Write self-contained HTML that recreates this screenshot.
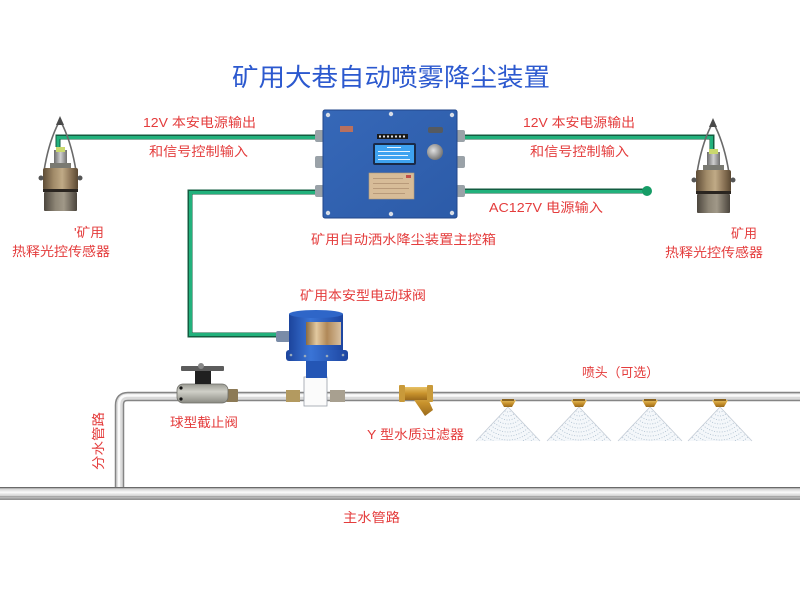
<!DOCTYPE html>
<html><head><meta charset="utf-8"><style>
html,body{margin:0;padding:0;background:#fff;}
svg{display:block;}
text{font-family:"Liberation Sans","Noto Sans CJK SC",sans-serif;}
.r{fill:#e43c3c;font-size:13px;}
</style></head><body>
<svg width="800" height="600" viewBox="0 0 800 600" xmlns="http://www.w3.org/2000/svg">
<defs>
 <linearGradient id="bronze" x1="0" x2="1" y1="0" y2="0">
  <stop offset="0" stop-color="#5e4c36"/><stop offset="0.3" stop-color="#a08a68"/><stop offset="0.55" stop-color="#c0aa86"/><stop offset="0.8" stop-color="#8a7356"/><stop offset="1" stop-color="#5a4832"/>
 </linearGradient>
 <linearGradient id="lower" x1="0" x2="1" y1="0" y2="0">
  <stop offset="0" stop-color="#4c463e"/><stop offset="0.35" stop-color="#8e8676"/><stop offset="0.6" stop-color="#a09888"/><stop offset="1" stop-color="#4a443c"/>
 </linearGradient>
 <linearGradient id="neck" x1="0" x2="1" y1="0" y2="0">
  <stop offset="0" stop-color="#6a6a6a"/><stop offset="0.5" stop-color="#cfcfcf"/><stop offset="1" stop-color="#6e6e6e"/>
 </linearGradient>
 <linearGradient id="pipeH" x1="0" x2="0" y1="0" y2="1">
  <stop offset="0" stop-color="#7a7a7a"/><stop offset="0.18" stop-color="#d8d8d8"/><stop offset="0.4" stop-color="#fbfbfb"/><stop offset="0.7" stop-color="#cfcfcf"/><stop offset="1" stop-color="#8a8a8a"/>
 </linearGradient>
 <linearGradient id="vblue" x1="0" x2="1" y1="0" y2="0">
  <stop offset="0" stop-color="#1c449c"/><stop offset="0.4" stop-color="#3a74d6"/><stop offset="1" stop-color="#1d45a0"/>
 </linearGradient>
 <linearGradient id="gold" x1="0" x2="1" y1="0" y2="0">
  <stop offset="0" stop-color="#8a6a40"/><stop offset="0.3" stop-color="#e2c9a0"/><stop offset="0.6" stop-color="#b08858"/><stop offset="1" stop-color="#d8c0a0"/>
 </linearGradient>
 <linearGradient id="brass" x1="0" x2="0" y1="0" y2="1">
  <stop offset="0" stop-color="#e8c266"/><stop offset="0.5" stop-color="#c8922c"/><stop offset="1" stop-color="#9a6a1c"/>
 </linearGradient>
 <linearGradient id="boxg" x1="0" x2="1" y1="0" y2="1">
  <stop offset="0" stop-color="#3668b8"/><stop offset="1" stop-color="#2c5ba8"/>
 </linearGradient>
 <radialGradient id="knob" cx="0.4" cy="0.4" r="0.6">
  <stop offset="0" stop-color="#e0e0e0"/><stop offset="1" stop-color="#777"/>
 </radialGradient>
 <linearGradient id="bv" x1="0" x2="0" y1="0" y2="1">
  <stop offset="0" stop-color="#9a9a92"/><stop offset="0.4" stop-color="#d0d0c8"/><stop offset="1" stop-color="#8a8a82"/>
 </linearGradient>
 <clipPath id="tri"><path d="M0 0 L-32 34 L32 34 Z"/></clipPath>
 <g id="spray">
  <path d="M0 0 L-32 34 L32 34 Z" fill="#f4f7fa"/>
  <g clip-path="url(#tri)" fill="none" stroke="#a9bccd" stroke-width="0.8" stroke-dasharray="1 1.6">
   <circle r="5"/><circle r="9"/><circle r="13"/><circle r="17"/><circle r="21"/><circle r="25"/><circle r="29"/><circle r="33"/><circle r="37"/><circle r="41"/>
  </g>
  <path d="M-32 34 L0 0 L32 34" fill="none" stroke="#c4ccd6" stroke-width="0.8"/>
  <path d="M-8 -7 L8 -7 L4 0 L-4 0 Z" fill="url(#brass)"/>
  <rect x="-6" y="-8" width="12" height="2" fill="#8a6420"/>
 </g>
 <g id="sensor">
  <path d="M58 124 C52 136 47 152 44 171" fill="none" stroke="#6a6a6a" stroke-width="1.6"/>
  <path d="M62 124 C68 136 73 152 76 171" fill="none" stroke="#6a6a6a" stroke-width="1.6"/>
  <path d="M60 116 L56 125 L64 125 Z" fill="#4a4a4a"/>
  <rect x="54" y="150" width="13" height="19" fill="url(#neck)"/>
  <rect x="56" y="147" width="9" height="5" fill="#c9d86e"/>
  <rect x="50" y="163" width="21" height="6" fill="#7a7a72"/>
  <rect x="43" y="168" width="35" height="22" rx="2" fill="url(#bronze)"/>
  <circle cx="41" cy="178" r="2.5" fill="#555"/>
  <circle cx="80" cy="178" r="2.5" fill="#555"/>
  <rect x="43" y="189" width="35" height="3" fill="#2a2520"/>
  <rect x="44" y="192" width="33" height="19" rx="1" fill="url(#lower)"/>
 </g>
</defs>

<rect width="800" height="600" fill="#fff"/>

<!-- title -->
<text x="232" y="86" font-size="25" fill="#2c59cf" textLength="318" lengthAdjust="spacingAndGlyphs">矿用大巷自动喷雾降尘装置</text>

<!-- green connectors -->
<g fill="none" stroke-linejoin="miter">
 <path d="M58 147 V137 H318" stroke="#135c40" stroke-width="5"/>
 <path d="M58 147 V137.5 H318" stroke="#22b17c" stroke-width="3"/>
 <path d="M318 192 H190 V335 H280" stroke="#135c40" stroke-width="5"/>
 <path d="M318 192.5 H190.5 V334.5 H280" stroke="#22b17c" stroke-width="3"/>
 <path d="M462 137 H712 V149" stroke="#135c40" stroke-width="5"/>
 <path d="M462 137.5 H711.5 V149" stroke="#22b17c" stroke-width="3"/>
 <path d="M462 191 H647" stroke="#135c40" stroke-width="5"/>
 <path d="M462 191.5 H647" stroke="#22b17c" stroke-width="3"/>
</g>
<circle cx="647" cy="191" r="5" fill="#169c66"/>

<!-- sensors -->
<use href="#sensor"/>
<use href="#sensor" transform="translate(653,2)"/>

<!-- control box -->
<g>
 <rect x="315" y="130" width="9" height="12" rx="2" fill="#9aa2a8"/>
 <rect x="315" y="156" width="9" height="12" rx="2" fill="#9aa2a8"/>
 <rect x="315" y="185" width="9" height="12" rx="2" fill="#9aa2a8"/>
 <rect x="456" y="130" width="9" height="12" rx="2" fill="#9aa2a8"/>
 <rect x="456" y="156" width="9" height="12" rx="2" fill="#9aa2a8"/>
 <rect x="456" y="185" width="9" height="12" rx="2" fill="#9aa2a8"/>
 <rect x="323" y="110" width="134" height="108" rx="2" fill="url(#boxg)" stroke="#22468a" stroke-width="1"/>
 <g fill="#d8dde6">
  <circle cx="328" cy="115" r="2.2"/><circle cx="391" cy="114" r="2.2"/><circle cx="452" cy="115" r="2.2"/>
  <circle cx="328" cy="213" r="2.2"/><circle cx="391" cy="214" r="2.2"/><circle cx="452" cy="213" r="2.2"/>
 </g>
 <rect x="340" y="126" width="13" height="6" fill="#b8705e"/>
 <rect x="428" y="127" width="15" height="6" rx="2" fill="#555a60"/>
 <rect x="377" y="134" width="31" height="5" fill="#1a1a1a"/>
 <g fill="#ddd"><rect x="379" y="135.5" width="2" height="2"/><rect x="383" y="135.5" width="2" height="2"/><rect x="387" y="135.5" width="2" height="2"/><rect x="391" y="135.5" width="2" height="2"/><rect x="395" y="135.5" width="2" height="2"/><rect x="399" y="135.5" width="2" height="2"/><rect x="403" y="135.5" width="2" height="2"/></g>
 <rect x="373" y="143" width="43" height="22" rx="2" fill="#1a2a48"/>
 <rect x="375" y="145" width="39" height="18" fill="#3ea2f0"/>
 <g fill="#e8f4ff"><rect x="387" y="147" width="14" height="1"/><rect x="378" y="151" width="32" height="1"/><rect x="378" y="155" width="30" height="1"/><rect x="378" y="159" width="32" height="1"/></g>
 <circle cx="435" cy="152" r="8" fill="url(#knob)"/>
 <rect x="369" y="173" width="45" height="26" fill="#d7bc98" stroke="#b49a78" stroke-width="0.6"/>
 <g fill="#b89a7a"><rect x="373" y="178" width="30" height="1"/><rect x="373" y="183" width="36" height="1"/><rect x="373" y="188" width="36" height="1"/><rect x="373" y="193" width="32" height="1"/></g>
 <rect x="406" y="175" width="5" height="3" fill="#c0504a"/>
</g>

<!-- pipes -->
<g fill="none">
 <path d="M119.5 489 V405 Q119.5 396.5 128 396.5 H800" stroke="#858585" stroke-width="9.5"/>
 <path d="M119.5 489 V405 Q119.5 396.5 128 396.5 H800" stroke="#dadada" stroke-width="6.5"/>
 <path d="M119 489 V405 Q119 395.5 128 395.5 H800" stroke="#fafafa" stroke-width="2.5"/>
</g>
<rect x="0" y="487" width="800" height="13" fill="url(#pipeH)"/>
<rect x="0" y="487" width="800" height="1" fill="#6a6a6a"/>
<rect x="0" y="496" width="800" height="1" fill="#a8a8a8"/>

<!-- ball valve -->
<g>
 <rect x="226" y="389" width="12" height="13" rx="1" fill="#8c7a56"/>
 <rect x="177" y="384" width="51" height="19" rx="6" fill="url(#bv)" stroke="#6e6e68" stroke-width="0.8"/>
 <circle cx="181" cy="388" r="1.6" fill="#111"/>
 <circle cx="181" cy="399" r="1.6" fill="#111"/>
 <rect x="195" y="370" width="16" height="14" fill="#202020"/>
 <rect x="181" y="366" width="43" height="5" rx="1" fill="#5c5c5c"/>
 <circle cx="201" cy="366" r="3" fill="#888"/>
</g>

<!-- electric valve -->
<g>
 <rect x="286" y="390" width="14" height="12" fill="#b39a60"/>
 <rect x="330" y="390" width="15" height="12" fill="#a8a090"/>
 <rect x="304" y="377" width="23" height="29" fill="#fbfbfb" stroke="#9aa0a8" stroke-width="0.8"/>
 <rect x="306" y="361" width="21" height="17" fill="#2456b5"/>
 <rect x="276" y="331" width="14" height="11" rx="2" fill="#7a8ca8"/>
 <rect x="289" y="314" width="54" height="38" fill="url(#vblue)"/>
 <ellipse cx="316" cy="314" rx="27" ry="4" fill="#2f66c8"/>
 <rect x="306" y="322" width="35" height="23" fill="url(#gold)"/>
 <rect x="286" y="350" width="62" height="11" rx="3" fill="url(#vblue)"/>
 <g fill="#9ab"><circle cx="291" cy="355" r="1.3"/><circle cx="305" cy="356" r="1.3"/><circle cx="327" cy="356" r="1.3"/><circle cx="343" cy="355" r="1.3"/></g>
</g>

<!-- Y filter -->
<g>
 <path d="M410 394 L424 390 L433 410 L425 416 Z" fill="url(#brass)"/>
 <rect x="402" y="387" width="29" height="13" rx="2" fill="url(#brass)"/>
 <rect x="399" y="385" width="6" height="17" rx="1" fill="#c99a3a"/>
 <rect x="427" y="385" width="6" height="17" rx="1" fill="#c99a3a"/>
</g>

<!-- nozzles -->
<use href="#spray" transform="translate(508,407)"/>
<use href="#spray" transform="translate(579,407)"/>
<use href="#spray" transform="translate(650,407)"/>
<use href="#spray" transform="translate(720,407)"/>

<!-- labels -->
<text class="r" x="143" y="127" textLength="113" lengthAdjust="spacingAndGlyphs">12V 本安电源输出</text>
<text class="r" x="149" y="156" textLength="99" lengthAdjust="spacingAndGlyphs">和信号控制输入</text>
<text class="r" x="523" y="127" textLength="112" lengthAdjust="spacingAndGlyphs">12V 本安电源输出</text>
<text class="r" x="530" y="156" textLength="99" lengthAdjust="spacingAndGlyphs">和信号控制输入</text>
<text class="r" x="489" y="212" textLength="114" lengthAdjust="spacingAndGlyphs">AC127V 电源输入</text>
<text class="r" x="311" y="244" textLength="185" lengthAdjust="spacingAndGlyphs">矿用自动洒水降尘装置主控箱</text>
<text class="r" x="74" y="237" textLength="30" lengthAdjust="spacingAndGlyphs">'矿用</text>
<text class="r" x="12" y="256" textLength="98" lengthAdjust="spacingAndGlyphs">热释光控传感器</text>
<text class="r" x="731" y="238" textLength="26" lengthAdjust="spacingAndGlyphs">矿用</text>
<text class="r" x="665" y="257" textLength="98" lengthAdjust="spacingAndGlyphs">热释光控传感器</text>
<text class="r" x="300" y="300" textLength="126" lengthAdjust="spacingAndGlyphs">矿用本安型电动球阀</text>
<text class="r" x="170" y="427" textLength="68" lengthAdjust="spacingAndGlyphs">球型截止阀</text>
<text class="r" x="367" y="439" textLength="97" lengthAdjust="spacingAndGlyphs">Y 型水质过滤器</text>
<text class="r" x="582" y="377" textLength="77" lengthAdjust="spacingAndGlyphs">喷头（可选）</text>
<text class="r" x="343" y="522" textLength="57" lengthAdjust="spacingAndGlyphs">主水管路</text>
<text class="r" transform="translate(103,470) rotate(-90)" x="0" y="0" textLength="58" lengthAdjust="spacingAndGlyphs">分水管路</text>
</svg>
</body></html>
